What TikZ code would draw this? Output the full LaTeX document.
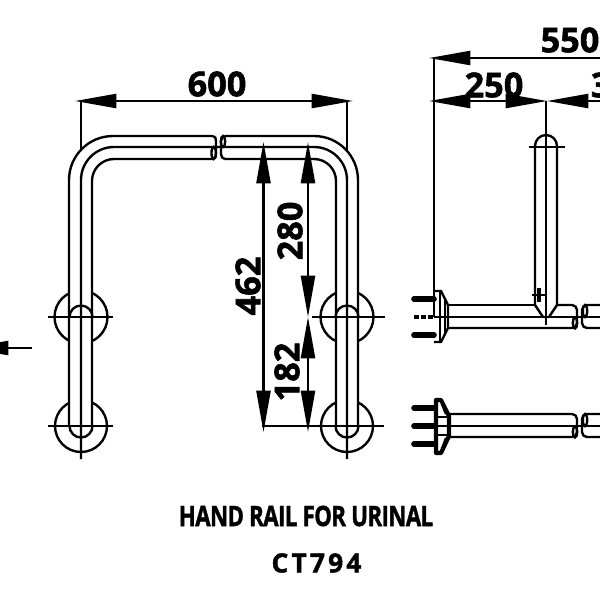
\documentclass[tikz,border=0pt]{standalone}
\usepackage{fontspec}
\setmainfont{Open Sans}[BoldFeatures={FakeBold=1.6}]
\usetikzlibrary{arrows.meta}

\begin{document}
\begin{tikzpicture}[x=0.02cm, y=-0.02cm, line width=1.1pt,
        rail/.style={line width=1.35pt},
        railfill/.style={fill=white, draw=none},
        dim/.style={line width=1.2pt, -{Triangle[length=23.5pt, width=8pt]}},
        extline/.style={line width=1.2pt},
        size/.style={font=\fontsize{19.5}{19.5}\bfseries\selectfont, inner sep=0pt},
        bolt/.style={line width=3.2pt, line cap=round}]

    \useasboundingbox (0,0) rectangle (600,600);
    \clip (0,0) rectangle (600,600);

    % front view
    \foreach \cx in {81,347} {
        \draw[rail] (\cx,317) circle[radius=26.5];
        \draw[rail] (\cx,426) circle[radius=26];
    }
    \fill[railfill] (69,180) rectangle (92,426);
    \fill[railfill] (336,180) rectangle (358,426);
    \fill[railfill] (69,426) arc[start angle=180, end angle=0, radius=11.5];
    \fill[railfill] (336,426) arc[start angle=180, end angle=0, radius=11];

    \draw[rail, rounded corners=0.88cm] (69,426) -- (69,136) -- (213,136);
    \draw[rail, rounded corners=0.66cm] (81,459) -- (81,147) -- (216,147);
    \draw[rail, rounded corners=0.44cm] (92,426) -- (92,159) -- (213,159);
    \draw[rail] (213,136) to[out=0, in=90] (216,141) -- (216,154) to[out=-90, in=0] (213,159);
    \draw[rail] (213.7,153) ellipse[x radius=2.2, y radius=6];
    \draw[rail, rounded corners=0.88cm] (225,136) -- (358,136) -- (358,426);
    \draw[rail, rounded corners=0.66cm] (216,147) -- (347,147) -- (347,459);
    \draw[rail, rounded corners=0.44cm] (225,159) -- (336,159) -- (336,426);
    \draw[rail] (225,159) to[out=180, in=-90] (221,154) -- (221,141) to[out=90, in=180] (225,136);
    \draw[rail] (223,141.5) ellipse[x radius=2.2, y radius=5.5];

    \foreach \cx in {81,347} {
        \draw[rail] (\cx-11.5,317) arc[start angle=180, end angle=360, radius=11.5];
        \draw[rail] (\cx-11.5,426) arc[start angle=180, end angle=0, radius=11.5];
    }
    \draw[rail] (48,317) -- (113,317);
    \draw[rail] (48,426) -- (113,426);
    \draw[rail] (312,317) -- (385,317);
    \draw[rail] (262,426) -- (384,426);

    % dimensions of the front view
    \coordinate (topleft) at (75,101);
    \coordinate (topright) at (353,101);
    \coordinate (topmid) at (214,101);
    \draw[dim] (topmid) -- (topleft);
    \draw[dim] (topmid) -- (topright);
    \draw[extline] (81,101) -- (81,150);
    \draw[extline] (347,101) -- (347,150);
    \node[size] (width) at (217,84) {600};

    \coordinate (highA) at (263.5,142);
    \coordinate (lowA) at (263.5,432);
    \coordinate (midA) at (263.5,285);
    \draw[dim] (midA) -- (highA);
    \draw[dim] (midA) -- (lowA);
    \coordinate (highB) at (308,142);
    \coordinate (midB) at (308,317);
    \coordinate (lowB) at (308,432);
    \draw[dim] (308,230) -- (highB);
    \draw[dim] (308,230) -- (midB);
    \draw[dim] (308,372) -- (midB);
    \draw[dim] (308,372) -- (lowB);
    \node[size, rotate=90] (total) at (248,286) {462};
    \node[size, rotate=90] (upper) at (290,231) {280};
    \node[size, rotate=90] (lower) at (287,372) {182};

    \coordinate (viewtip) at (-33,348);
    \coordinate (viewend) at (32,348);
    \draw[dim] (viewend) -- (viewtip);

    % side view, upper
    \draw[rail] (535,305) -- (535,146) arc[start angle=180, end angle=360, radius=11] -- (557,305);
    \draw[rail] (529,147) -- (565,147);
    \draw[rail] (546,101) -- (546,325);
    \draw[rail] (532,295) -- (547,295);
    \draw[line width=2pt] (539,288) -- (539,302);
    \draw[rail] (535,305) -- (543,317);
    \draw[rail] (557,305) -- (549,317);

    \draw[rail] (448,305) -- (535,305);
    \draw[rail] (557,305) -- (572,305) to[out=0, in=90] (577,310) -- (577,323) to[out=-90, in=0] (572,328) -- (448,328);
    \draw[rail] (575,323) ellipse[x radius=2.2, y radius=5.5];
    \draw[rail] (600,305) -- (587,305) to[out=180, in=90] (582,310) -- (582,323) to[out=-90, in=180] (587,328) -- (600,328);
    \draw[rail] (585,311) ellipse[x radius=2.2, y radius=6];
    \draw[rail] (434,317) -- (600,317);
    \draw[rail] (434,291) -- (441,291) -- (448,305) -- (448,328) -- (441,342) -- (434,342);
    \draw[rail] (440,291) -- (440,342);
    \draw[rail] (445,300) -- (445,333);
    \foreach \by in {299,335} {
        \draw[bolt] (414,\by) -- (434,\by);
    }
    \draw[line width=2.6pt, dash pattern=on 3pt off 1pt] (414,317) -- (434,317);

    % side view, lower
    \draw[rail] (448,414) -- (572,414) to[out=0, in=90] (577,419) -- (577,432) to[out=-90, in=0] (572,437) -- (448,437);
    \draw[rail] (575,432) ellipse[x radius=2.2, y radius=5.5];
    \draw[rail] (600,414) -- (587,414) to[out=180, in=90] (582,419) -- (582,432) to[out=-90, in=180] (587,437) -- (600,437);
    \draw[rail] (585,420) ellipse[x radius=2.2, y radius=6];
    \draw[rail] (434,426) -- (600,426);
    \draw[line width=2.4pt, line join=round] (436,400) -- (441,400) -- (449,416) -- (449,436) -- (441,453) -- (436,453) -- cycle;
    \draw[rail] (436,417) rectangle (449,435);
    \draw[rail] (442,404) -- (446,414);
    \draw[rail] (442,449) -- (446,438);
    \foreach \by in {408,426,444} {
        \draw[bolt] (414,\by) -- (434,\by);
    }

    % dimensions of the side view
    \draw[extline] (434,58) -- (434,317);
    \coordinate (sideleft) at (429,58);
    \coordinate (sidelefttwo) at (429,101);
    \coordinate (sidemid) at (547,101);
    \draw[dim] (600,58) -- (sideleft);
    \draw[dim] (490,101) -- (sidelefttwo);
    \draw[dim] (480,101) -- (sidemid);
    \draw[dim] (600,101) -- (sidemid);
    \node[size] (sidewidth) at (570,40) {550};
    \node[size] (wallgap) at (494,85) {250};
    \node[size, anchor=west] (reach) at (590,85) {3};

    % title
    \node[font=\fontsize{16}{16}\bfseries\selectfont, inner sep=0pt] (title) at (306,516)
        {\scalebox{0.79}[1]{\addfontfeature{LetterSpace=-2.5}HAND RAIL FOR URINAL}};
    \node[font=\fontsize{15}{15}\bfseries\selectfont, inner sep=0pt] (model) at (316.5,563)
        {\addfontfeature{LetterSpace=12}CT794};
\end{tikzpicture}
\end{document}
